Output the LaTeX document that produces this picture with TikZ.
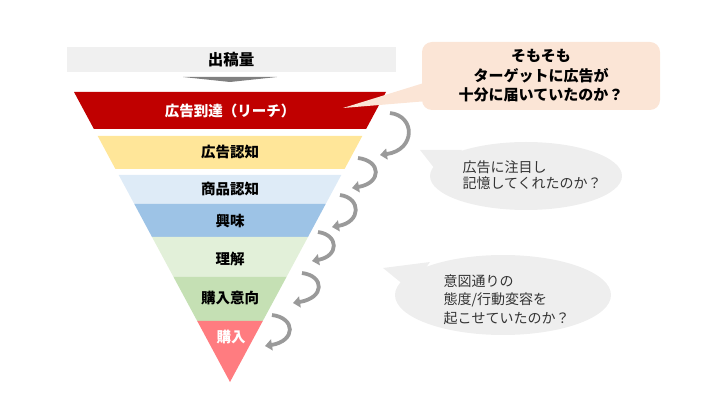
\documentclass[tikz,border=0pt]{standalone}
\usepackage{fontspec}
\setmainfont{Noto Sans CJK JP}
\usetikzlibrary{arrows.meta}
\definecolor{fnlred}{HTML}{C00000}
\definecolor{fnlyellow}{HTML}{FFE699}
\definecolor{fnlpale}{HTML}{DEEBF7}
\definecolor{fnlblue}{HTML}{9DC3E6}
\definecolor{fnlmint}{HTML}{E2F0D9}
\definecolor{fnlgreen}{HTML}{C5E0B4}
\definecolor{fnlpink}{HTML}{FF7C80}
\definecolor{fnlpeach}{HTML}{FBE5D6}
\definecolor{fnlbar}{HTML}{F0F0F0}
\definecolor{fnlcloud}{HTML}{EEEEEE}
\definecolor{fnlarrow}{HTML}{9A9A9A}

\begin{document}
\begin{tikzpicture}[x=1pt,y=-1pt,
    layer/.style={font=\fontsize{14.5}{16}\selectfont\bfseries},
    bendarr/.style={draw=fnlarrow,line width=3.8pt,-{Triangle[width=11pt,length=7pt]}},
    cloudtext/.style={text=black!80,align=left,anchor=west}]
  \useasboundingbox (0,0) rectangle (717,419);
  % inflow bar
  \fill[fnlbar] (67,47) rectangle (396,72);
  \node[font=\fontsize{15.5}{18}\selectfont\bfseries] (inflow) at (231,59.5) {出稿量};
  \fill[gray] (183,77) -- (277,77) -- (230,82) -- cycle;
  % funnel layers
  \fill[fnlred] (74,92) -- (386,92) -- (366.1,129) -- (93.9,129) -- cycle;
  \fill[fnlyellow] (97.7,136) -- (362.3,136) -- (344.6,169) -- (115.4,169) -- cycle;
  \fill[fnlpale] (118.7,175) -- (341.3,175) -- (325.7,204) -- (134.3,204) -- cycle;
  \fill[fnlblue] (134.3,204) -- (325.7,204) -- (308,237) -- (152,237) -- cycle;
  \fill[fnlmint] (152,237) -- (308,237) -- (286.5,277) -- (173.5,277) -- cycle;
  \fill[fnlgreen] (173.5,277) -- (286.5,277) -- (262.8,321) -- (197.2,321) -- cycle;
  \fill[fnlpink] (197.2,321) -- (262.8,321) -- (230,382) -- cycle;
  \node[layer,text=white] (reach) at (230,110.5) {広告到達（リーチ）};
  \node[layer] (adaware) at (230,152.5) {広告認知};
  \node[layer] (prodaware) at (230,189) {商品認知};
  \node[layer] (interest) at (230,220.5) {興味};
  \node[layer] (understand) at (230,258.5) {理解};
  \node[layer] (intent) at (230,298) {購入意向};
  \node[layer,text=white] (purchase) at (231,337) {購入};
  % step arrows
  \foreach \sx/\sy/\tx/\ty/\cx in {390/113/380/155/415.7, 358/158/352/188/381.7,
      340/195/332/227/361.3, 318/232/312/261/339, 302/273/293/303/324.8,
      272/315/265/346/295.9}
    \draw[bendarr] (\sx,\sy) .. controls (\cx,\sy+3) and (\cx,\ty-5) .. (\tx,\ty);
  % callouts
  \fill[fnlpeach] (343,108) -- (440,78) -- (440,100) -- cycle;
  \node[fill=fnlpeach,rounded corners=10pt,minimum width=238pt,minimum height=68pt,
    align=center,font=\fontsize{15}{19.5}\selectfont\bfseries] (doubt) at (541,76)
    {そもそも\\ターゲットに広告が\\十分に届いていたのか？};
  \fill[fnlcloud] (420,150) -- (462,150) -- (442,178) -- cycle;
  \fill[fnlcloud] (526,176) ellipse [x radius=96pt,y radius=34pt];
  \node[cloudtext,font=\fontsize{14}{16.5}\selectfont] (notice) at (459,175)
    {広告に注目し\\記憶してくれたのか？};
  \fill[fnlcloud] (383,268) -- (430,262) -- (410,290) -- cycle;
  \fill[fnlcloud] (503,295) ellipse [x radius=108pt,y radius=40pt];
  \node[cloudtext,font=\fontsize{14}{18.5}\selectfont] (change) at (440,299.5)
    {意図通りの\\態度/行動変容を\\起こせていたのか？};
\end{tikzpicture}
\end{document}
